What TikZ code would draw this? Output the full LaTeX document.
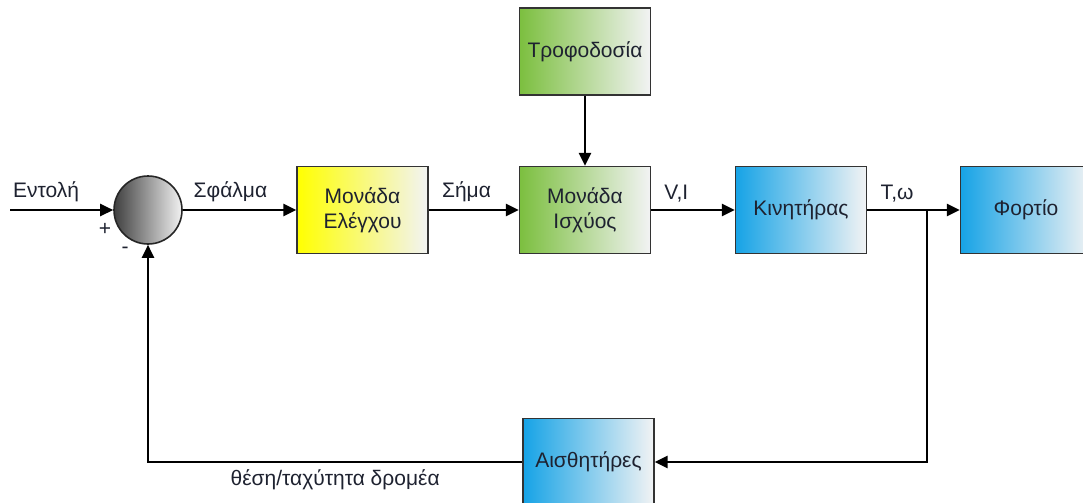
\documentclass[tikz,border=0pt]{standalone}
\usepackage{fontspec}
\setmainfont{Liberation Sans}
\usetikzlibrary{arrows.meta}
\definecolor{txt}{HTML}{1E2230}
\definecolor{ctrlyel}{HTML}{FFFF00}
\definecolor{pwrgreen}{HTML}{7CBF3F}
\definecolor{motblue}{HTML}{16A3E6}
\definecolor{fade}{HTML}{F2F3F4}
\begin{document}
\begin{tikzpicture}[x=0.5pt,y=-0.5pt,>={Triangle[length=6.5pt,width=6pt]},
  font=\fontsize{10.5}{12.5}\selectfont,line width=1.3pt,
  every node/.append style={text=txt},
  block/.style={draw=black!80,line width=0.7pt,minimum width=65.5pt,
    minimum height=43.5pt,align=center,right color=fade},
  sumpt/.style={circle,draw=black!85,line width=0.8pt,minimum size=34pt,
    inner sep=0pt,left color=black!75,right color=black!5}]
\useasboundingbox (0,0) rectangle (1083,503);
% blocks
\node[sumpt] (sum) at (148,210) {};
\node[block,left color=ctrlyel] (ctrl) at (362.5,210) {Μονάδα\\Ελέγχου};
\node[block,left color=pwrgreen] (power) at (585,210) {Μονάδα\\Ισχύος};
\node[block,left color=pwrgreen] (supply) at (585,51.5) {Τροφοδοσία};
\node[block,left color=motblue] (motor) at (801,210) {Κινητήρας};
\node[block,left color=motblue] (load) at (1026,210) {Φορτίο};
\node[block,left color=motblue] (sens) at (588.5,462) {Αισθητήρες};
\coordinate (in) at (10,210);
\coordinate (split) at (927,210);
\node[inner sep=0pt] (plus) at (105,229) {+};
\node[inner sep=0pt] (minus) at (125,250) {-};
% forward path
\draw[->] (in) -- node[above,pos=0.35] {Εντολή} (sum);
\draw[->] (sum) -- node[above,pos=0.42] {Σφάλμα} (ctrl);
\draw[->] (ctrl) -- node[above,pos=0.42] {Σήμα} (power);
\draw[->] (supply) -- (power);
\draw[->] (power) -- node[above,pos=0.3] {V,I} (motor);
\draw[->] (motor) -- node[above] {T,ω} (split) -- (load);
% feedback
\draw[->] (split) |- (sens);
\draw[->] (sens) -| node[below,pos=0.25] {θέση/ταχύτητα δρομέα} (sum);
\end{tikzpicture}
\end{document}
